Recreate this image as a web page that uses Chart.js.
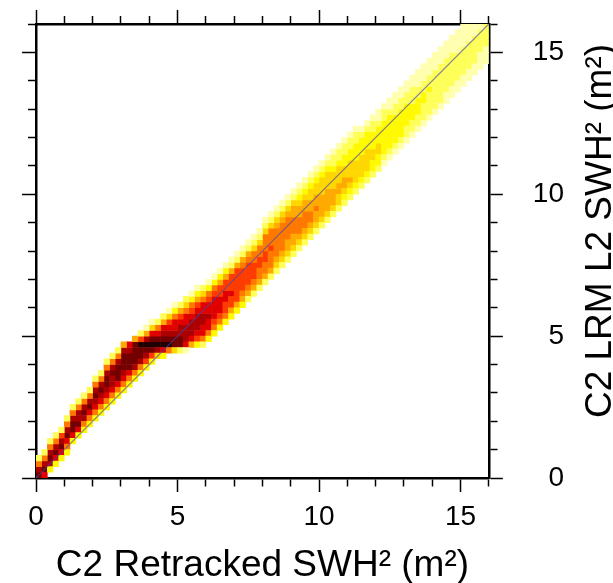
<!DOCTYPE html>
<html>
<head>
<meta charset="utf-8">
<script src="https://cdn.jsdelivr.net/npm/chart.js@4.4.0/dist/chart.umd.min.js"></script>
<style>
  html, body { margin: 0; padding: 0; background: #fff; }
  #wrap { position: relative; width: 613px; height: 583px; }
</style>
</head>
<body>
<div id="wrap"><canvas id="chart_swh2Density"></canvas></div>
<script>
// 2D histogram, bins of 0.2 m^2 on both axes (80 x 80)
const binSize = 0.2;
const axisMin = 0;
const axisMax = 16;
const majorTicks = [0, 5, 10, 15];

// first y bin of each x column
const colStart = [
  0, 0, 1, 2, 3, 4, 6, 7, 8, 9,
  10, 11, 12, 13, 14, 15, 16, 17, 18, 19,
  20, 21, 21, 22, 22, 22, 22, 23, 23, 23,
  24, 25, 26, 27, 28, 29, 30, 31, 32, 33,
  34, 35, 36, 37, 38, 39, 40, 41, 42, 43,
  44, 45, 46, 47, 48, 49, 50, 51, 52, 53,
  54, 55, 56, 57, 58, 59, 60, 61, 62, 63,
  64, 65, 66, 67, 68, 69, 70, 71, 72, 73
];

// density level of each cell going up the column (1 = faint ... b = darkest)
const colLevels = [
  "a962", "8a962", "39a962", "38a962", "38a972",
  "368a962", "38aa962", "38a9962", "369a962", "368a962",
  "3689a962", "3689a962", "3689aa962", "36899a962", "368aaa962",
  "3689aaa95", "368aaa98", "369aaaa5", "369aab72", "379ab951",
  "37aba841", "49ba862", "38ba9852", "6ba98741", "4aa988631",
  "2aa998752", "1899988642", "5899987631", "37899987531", "26889988642",
  "36889887631", "36788887631", "36788877531", "36778877531", "35778777521",
  "35777777521", "35677776521", "25677776521", "25677766421", "25667766421",
  "256677666421", "256667666421", "245666665421", "245666665421", "245566665421",
  "245566655421", "245666554321", "245666554321", "245665544321", "245565544321",
  "245555444321", "245555444321", "245554443221", "244554443221", "234554433221",
  "234544433221", "234444333221", "23444433321", "23444433321", "23344333221",
  "23344333211", "12333333221", "12333333211", "12333332211", "12333332211",
  "12233332211", "12233322211", "12233322111", "12223322111", "12222322111",
  "12222222111", "12222222111", "11222222111", "11222222111", "11222221111",
  "11222221111", "1122222111", "112222211", "11122221", "1112222"
];

const levelKeys = ['1', '2', '3', '4', '5', '6', '7', '8', '9', 'a', 'b'];
const levelColors = [
  'rgb(255,255,175)', 'rgb(255,255,90)', 'rgb(255,250,0)', 'rgb(255,215,0)',
  'rgb(255,170,0)', 'rgb(255,120,0)', 'rgb(255,60,0)', 'rgb(225,0,0)',
  'rgb(170,0,0)', 'rgb(115,0,0)', 'rgb(35,0,0)'
];

// 1:1 line
const diagX = [0, 16];
const diagY = [0, 16];

const xTitle = 'C2 Retracked SWH\u00B2 (m\u00B2)';
const yTitle = 'C2 LRM L2 SWH\u00B2 (m\u00B2)';

const cellData = levelKeys.map(() => []);
colLevels.forEach((s, i) => {
  for (let j = 0; j < s.length; j++) {
    const k = levelKeys.indexOf(s[j]);
    if (k < 0) continue;
    cellData[k].push({ x: (i + 0.5) * binSize, y: (colStart[i] + j + 0.5) * binSize });
  }
});

function cellRadius(context) {
  const sx = context.chart.scales.x;
  const side = Math.abs(sx.getPixelForValue(binSize) - sx.getPixelForValue(0)) + 0.6;
  return side * Math.SQRT1_2;
}

const datasets = cellData.map((pts, k) => ({
  type: 'scatter',
  label: 'level ' + levelKeys[k],
  data: pts,
  pointStyle: 'rect',
  pointRadius: cellRadius,
  pointBackgroundColor: levelColors[k],
  pointBorderWidth: 0,
  order: 2
}));
datasets.push({
  type: 'line',
  label: '1:1',
  data: diagX.map((x, i) => ({ x: x, y: diagY[i] })),
  borderColor: 'rgba(70,70,170,0.65)',
  borderWidth: 1.2,
  pointRadius: 0,
  fill: false,
  order: 1
});

const isMinor = c => c.tick && majorTicks.indexOf(c.tick.value) < 0;
const labelFont = { family: 'Liberation Sans', size: 28 };
const tickLabel = v => majorTicks.indexOf(v) >= 0 ? String(v) : '';

function axis(position, showLabels) {
  const outerFirst = position === 'top' || position === 'left';
  return {
    type: 'linear',
    position: position,
    min: axisMin,
    max: axisMax,
    ticks: {
      display: showLabels,
      stepSize: 1,
      autoSkip: false,
      maxRotation: 0,
      color: '#000',
      font: labelFont,
      callback: tickLabel
    },
    grid: {
      drawOnChartArea: false,
      tickLength: 14,
      tickWidth: 1.5,
      tickColor: '#000',
      tickBorderDash: c => isMinor(c) ? (outerFirst ? [8, 6] : [7, 30]) : [],
      tickBorderDashOffset: c => (isMinor(c) && outerFirst) ? 8 : 0
    },
    border: { display: true, color: '#000', width: 2.5 }
  };
}

const xAxis = axis('bottom', true);
xAxis.ticks.padding = 8;
xAxis.title = {
  display: true, text: xTitle, color: '#000',
  font: { family: 'Liberation Sans', size: 37 },
  padding: { top: 2, bottom: -5 }
};
const yAxis = axis('right', true);
yAxis.ticks.padding = 15;
yAxis.ticks.crossAlign = 'far';
// label overhang of the right axis is not needed, the frame sets the margins
yAxis.afterFit = s => { s.paddingTop = 0; s.paddingBottom = 0; };

var chart_swh2Density = new Chart(document.getElementById('chart_swh2Density'), {
  type: 'scatter',
  data: { datasets: datasets },
  options: {
    animation: false,
    responsive: true,
    maintainAspectRatio: false,
    events: [],
    layout: { padding: { left: 22, top: 10, right: 49, bottom: 0 } },
    plugins: {
      legend: { display: false },
      tooltip: { enabled: false }
    },
    scales: {
      x: xAxis,
      x2: axis('top', false),
      y: yAxis,
      y2: axis('left', false)
    }
  },
  plugins: [{
    id: 'whiteBackground',
    beforeDraw: (chart) => {
      const ctx = chart.canvas.getContext('2d');
      ctx.save();
      ctx.globalCompositeOperation = 'destination-over';
      ctx.fillStyle = 'white';
      ctx.fillRect(0, 0, chart.canvas.width, chart.canvas.height);
      ctx.restore();
    }
  }, {
    // right-hand title reads bottom to top
    id: 'rightTitle',
    afterDraw: (chart) => {
      const ctx = chart.ctx;
      const area = chart.chartArea;
      ctx.save();
      ctx.fillStyle = '#000';
      ctx.font = '37px "Liberation Sans"';
      ctx.textAlign = 'center';
      ctx.textBaseline = 'alphabetic';
      ctx.translate(chart.width - 2, (area.top + area.bottom) / 2 - 20);
      ctx.rotate(-Math.PI / 2);
      ctx.fillText(yTitle, 0, 0);
      ctx.restore();
    }
  }]
});
</script>
</body>
</html>
